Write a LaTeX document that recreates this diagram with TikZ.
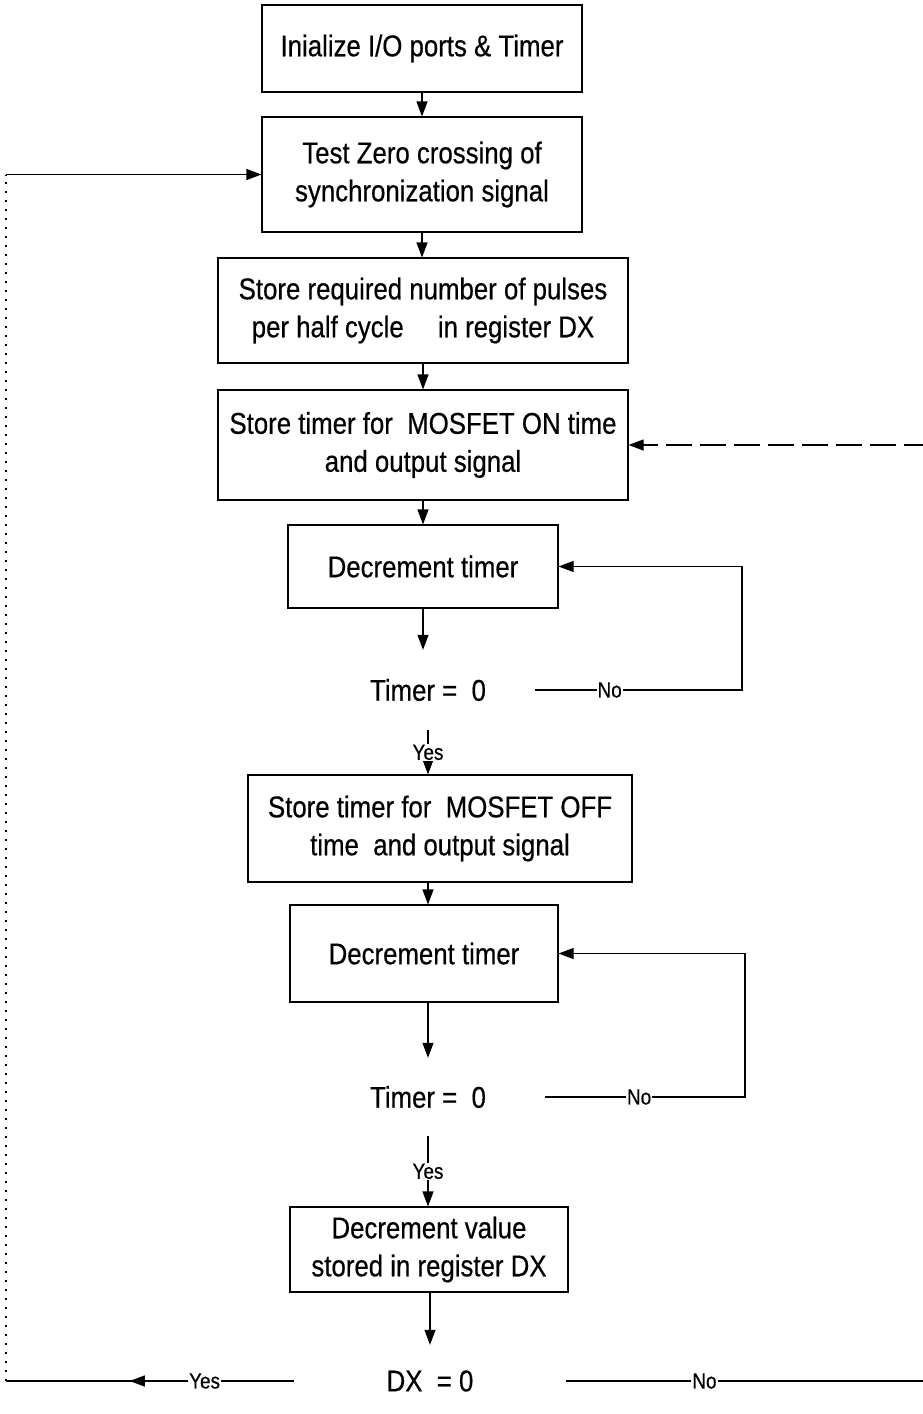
\documentclass[tikz,border=0pt]{standalone}
\usepackage{fontspec}
\setmainfont[FakeStretch=0.86,FakeBold=0.5]{Liberation Sans}
\usetikzlibrary{arrows.meta,decorations.markings}
\begin{document}
\begin{tikzpicture}[x=1pt,y=-1pt,
  box/.style={draw, line width=1.1pt, rectangle, align=center, inner sep=0pt, font=\fontsize{30}{38}\selectfont},
  dec/.style={rectangle, draw=none, inner sep=0pt, font=\fontsize{30}{34}\selectfont},
  arr/.style={line width=1.1pt, -{Triangle[length=15pt,width=11pt]}},
  ln/.style={line width=1.1pt},
  dotline/.style={line width=1.1pt, dash pattern=on 2pt off 7pt},
  dashline/.style={line width=1.1pt, dash pattern=on 26pt off 8pt},
  lbl/.style={fill=white, inner sep=1pt, font=\fontsize{22}{24}\selectfont},
  midarrow/.style={decoration={markings, mark=at position #1 with {\arrow{Triangle[length=15pt,width=11pt]}}}, postaction={decorate}}]
\useasboundingbox (0,0) rectangle (922,1414);

\node[box, minimum width=320pt, minimum height=87pt] (b1) at (422,48.5) {Inialize I/O ports \& Timer};
\node[box, minimum width=320pt, minimum height=115pt] (b2) at (422,174.5) {Test Zero crossing of\\synchronization signal};
\node[box, minimum width=410pt, minimum height=105pt] (b3) at (423,310.5) {Store required number of pulses\\per half cycle\hspace{0.9em} in register DX};
\node[box, minimum width=410pt, minimum height=110pt] (b4) at (423,445) {Store timer for\ \ MOSFET ON time\\and output signal};
\node[box, minimum width=270pt, minimum height=83pt] (b5) at (423,566.5) {Decrement timer};
\node[dec, minimum width=214pt, minimum height=80pt] (d1) at (428,690) {Timer = \ 0};
\node[box, minimum width=384pt, minimum height=107pt] (b6) at (440,828.5) {Store timer for\ \ MOSFET OFF\\time\ \ and output signal};
\node[box, minimum width=268pt, minimum height=97pt] (b7) at (424,953.5) {Decrement timer};
\node[dec, minimum width=234pt, minimum height=78pt] (d2) at (428,1097) {Timer = \ 0};
\node[box, minimum width=278pt, minimum height=85pt] (b8) at (429,1249.5) {Decrement value\\stored in register DX};
\node[dec, minimum width=272pt, minimum height=72pt] (d3) at (430,1381) {DX\ \ = 0};

\coordinate (n1) at (742,690);
\coordinate (n2) at (745,1097);
\coordinate (L1) at (6,1381);
\coordinate (L2) at (6,174.5);
\coordinate (R1) at (930,1381);
\coordinate (R2) at (930,445);

\draw[arr] (b1.south) -- (b2.north);
\draw[arr] (b2.south) -- (b3.north -| b2.south);
\draw[arr] (b3.south) -- (b4.north);
\draw[arr] (b4.south) -- (b5.north);
\draw[arr] (b5.south) -- (d1.north -| b5.south);
\draw[arr] (d1.east) -- node[lbl, pos=0.36]{No} (n1) |- (b5.east);
\draw[arr] (d1.south) -- node[lbl]{Yes} (d1.south |- b6.north);
\draw[arr] (b6.south -| d1.south) -- (b7.north -| d1.south);
\draw[arr] (b7.south -| d2.north) -- (d2.north);
\draw[arr] (d2.east) -- node[lbl, pos=0.47]{No} (n2) |- (b7.east);
\draw[arr] (d2.south) -- node[lbl]{Yes} (d2.south |- b8.north);
\draw[arr] (b8.south -| d3.north) -- (d3.north);
\draw[ln, midarrow=0.57] (d3.west) -- node[lbl, pos=0.31]{Yes} (L1);
\draw[dotline] (L1) -- (L2);
\draw[arr] (L2) -- (b2.west);
\draw[ln] (d3.east) -- node[lbl, pos=0.38]{No} (R1);
\draw[dashline, -{Triangle[length=15pt,width=11pt]}] (R2) -- (b4.east);
\end{tikzpicture}
\end{document}
